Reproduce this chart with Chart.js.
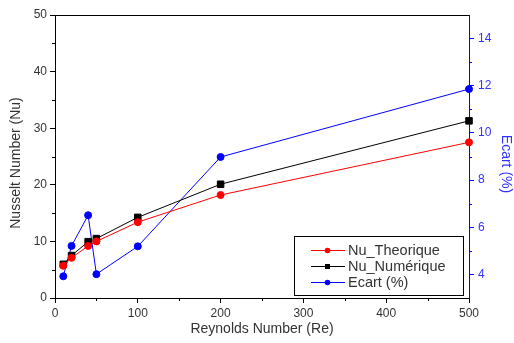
<!DOCTYPE html>
<html>
<head>
<meta charset="utf-8">
<script src="https://cdn.jsdelivr.net/npm/chart.js@4"></script>
<style>
  html, body { margin: 0; padding: 0; background: #fff; }
  #wrap { width: 514px; height: 343px; }
</style>
</head>
<body>
<div id="wrap"><canvas id="nuChart" width="514" height="343"></canvas></div>
<script>
// ===== Data =====
const reynolds = [10, 20, 40, 50, 100, 200, 500];
const nuTheorique = [5.7, 7.1, 9.2, 10.0, 13.4, 18.2, 27.5];
const nuNumerique = [5.95, 7.5, 9.95, 10.5, 14.25, 20.1, 31.3];
const ecart = [3.92, 5.21, 6.51, 4.01, 5.19, 8.98, 11.86];

const titleX = 'Reynolds Number (Re)';
const titleY = 'Nusselt Number (Nu)';
const titleY2 = 'Ecart (%)';

const toPts = vals => reynolds.map((x, i) => ({ x: x, y: vals[i] }));
const FONT = 'Liberation Sans, Arial, sans-serif';
const TXT = '#333333';
const BLUE = '#0000ff';

// minor ticks, top border, axis titles and the boxed legend
const extras = {
  id: 'extras',
  afterDraw(chart) {
    const ctx = chart.ctx;
    const a = chart.chartArea;
    const sx = chart.scales.x, sy = chart.scales.y, sy2 = chart.scales.y2;
    ctx.save();
    ctx.lineWidth = 1;
    ctx.strokeStyle = '#000';
    ctx.beginPath();
    ctx.moveTo(a.left, a.top + 0.5);
    ctx.lineTo(a.right, a.top + 0.5);
    [50, 150, 250, 350, 450].forEach(v => {
      const px = Math.round(sx.getPixelForValue(v)) + 0.5;
      ctx.moveTo(px, a.bottom); ctx.lineTo(px, a.bottom + 3);
    });
    [5, 15, 25, 35, 45].forEach(v => {
      const py = Math.round(sy.getPixelForValue(v)) + 0.5;
      ctx.moveTo(a.left, py); ctx.lineTo(a.left - 3, py);
    });
    ctx.stroke();
    ctx.strokeStyle = BLUE;
    ctx.beginPath();
    [5, 7, 9, 11, 13].forEach(v => {
      const py = Math.round(sy2.getPixelForValue(v)) + 0.5;
      ctx.moveTo(a.right, py); ctx.lineTo(a.right + 3, py);
    });
    ctx.stroke();

    // axis titles
    ctx.font = '14px ' + FONT;
    ctx.textAlign = 'center';
    ctx.textBaseline = 'middle';
    ctx.fillStyle = TXT;
    ctx.fillText(titleX, (a.left + a.right) / 2, 329);
    ctx.save();
    ctx.translate(16, 163);
    ctx.rotate(-Math.PI / 2);
    ctx.fillText(titleY, 0, 0);
    ctx.restore();
    ctx.save();
    ctx.translate(506, 164);
    ctx.rotate(Math.PI / 2);
    ctx.fillStyle = '#3333ff';
    ctx.fillText(titleY2, 0, 0);
    ctx.restore();

    // legend box
    const bx = 294.5, by = 236.5, bw = 169, bh = 59;
    ctx.fillStyle = '#fff';
    ctx.fillRect(bx, by, bw, bh);
    ctx.strokeStyle = '#000';
    ctx.strokeRect(bx, by, bw, bh);
    ctx.font = '14.5px ' + FONT;
    ctx.textAlign = 'left';
    ctx.textBaseline = 'middle';
    chart.data.datasets.forEach((ds, i) => {
      const y = 250 + i * 16;
      ctx.strokeStyle = ds.borderColor;
      ctx.beginPath();
      ctx.moveTo(311, y + 0.5); ctx.lineTo(345, y + 0.5);
      ctx.stroke();
      ctx.fillStyle = ds.borderColor;
      if (ds.pointStyle === 'rect') {
        ctx.fillRect(325, y - 2, 5, 5);
      } else {
        ctx.beginPath();
        ctx.arc(327.5, y + 0.5, 2.8, 0, Math.PI * 2);
        ctx.fill();
      }
      ctx.fillStyle = TXT;
      ctx.fillText(ds.label, 348, y + 1);
    });
    ctx.restore();
  }
};

new Chart(document.getElementById('nuChart'), {
  type: 'line',
  data: {
    datasets: [
      {
        label: 'Nu_Theorique',
        data: toPts(nuTheorique),
        yAxisID: 'y',
        borderColor: '#ff0000',
        backgroundColor: '#ff0000',
        borderWidth: 1,
        pointRadius: 3.5,
        pointStyle: 'circle',
        tension: 0,
        clip: false
      },
      {
        label: 'Nu_Numérique',
        data: toPts(nuNumerique),
        yAxisID: 'y',
        borderColor: '#000000',
        backgroundColor: '#000000',
        borderWidth: 1,
        pointRadius: 4.6,
        pointStyle: 'rect',
        tension: 0,
        clip: false
      },
      {
        label: 'Ecart (%)',
        data: toPts(ecart),
        yAxisID: 'y2',
        borderColor: BLUE,
        backgroundColor: BLUE,
        borderWidth: 1,
        pointRadius: 3.5,
        pointStyle: 'circle',
        tension: 0,
        clip: false
      }
    ]
  },
  options: {
    responsive: false,
    animation: false,
    devicePixelRatio: 1,
    layout: { padding: { top: 15, left: 0, right: 0, bottom: 0 } },
    plugins: { legend: { display: false }, tooltip: { enabled: false } },
    scales: {
      x: {
        type: 'linear',
        min: 0, max: 500,
        afterFit: s => { s.height = 45; },
        ticks: { stepSize: 100, color: TXT, font: { family: FONT, size: 12 }, padding: 3 },
        grid: { drawOnChartArea: false, tickLength: 5, color: '#000' },
        border: { color: '#000' }
      },
      y: {
        position: 'left',
        min: 0, max: 50,
        afterFit: s => { s.width = 55; },
        ticks: { stepSize: 10, color: TXT, font: { family: FONT, size: 12 }, padding: 3 },
        grid: { drawOnChartArea: false, tickLength: 5, color: '#000' },
        border: { color: '#000' }
      },
      y2: {
        position: 'right',
        min: 3, max: 15,
        afterFit: s => { s.width = 45; },
        afterBuildTicks: s => { s.ticks = [4, 6, 8, 10, 12, 14].map(v => ({ value: v })); },
        ticks: { color: '#3333ff', font: { family: FONT, size: 12 }, padding: 4 },
        grid: { drawOnChartArea: false, tickLength: 5, color: BLUE },
        border: { color: BLUE }
      }
    }
  },
  plugins: [extras]
});
</script>
</body>
</html>
